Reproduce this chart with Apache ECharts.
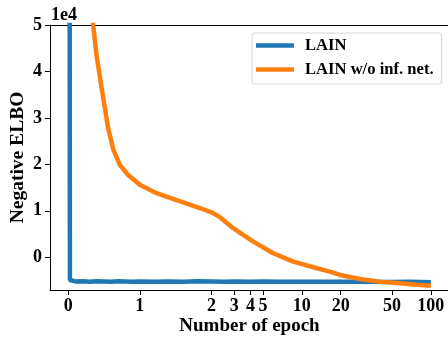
<!DOCTYPE html>
<html>
<head>
<meta charset="utf-8">
<script src="https://cdn.jsdelivr.net/npm/echarts@6/dist/echarts.min.js"></script>
<style>html,body{margin:0;padding:0;background:#fff}#c{width:448px;height:337px}</style>
</head>
<body>
<div id="c"></div>
<script>
// ---- data (epochs on a symlog x scale, linthresh = 2) ----
const seriesNames = ['LAIN', 'LAIN w/o inf. net.'];
const blueEpochs = [0, 0.025, 0.05, 0.1, 0.2, 0.3, 0.4, 0.5, 0.6, 0.7, 0.8, 0.9, 1.0, 1.2, 1.4, 1.6, 1.8, 2.0, 2.5, 3, 4, 5, 7, 10, 15, 20, 30, 50, 70, 100];
const blueValues = [400000, -4900, -5150, -5200, -5150, -5250, -5150, -5200, -5250, -5150, -5200, -5250, -5200, -5250, -5200, -5250, -5150, -5200, -5250, -5200, -5250, -5200, -5250, -5250, -5300, -5250, -5300, -5350, -5300, -5400];
const orangeEpochs = [0.27, 0.349, 0.396, 0.466, 0.526, 0.558, 0.628, 0.721, 0.837, 1.0, 1.233, 1.512, 1.838, 2.06, 2.3, 2.94, 4.21, 6.01, 8.59, 12.28, 16.5, 19.8, 28.25, 40.4, 57.7, 82.5, 100];
const orangeValues = [60000, 50000, 43500, 36500, 30800, 27800, 23300, 19900, 17700, 15600, 13800, 12300, 10600, 9500, 8700, 6250, 3360, 860, -950, -2155, -3100, -3815, -4680, -5260, -5600, -5970, -6120];
const xTickEpochs = [0, 1, 2, 3, 4, 5, 10, 20, 50, 100];
const yTickValues = [0, 10000, 20000, 30000, 40000, 50000];

// ---- symlog scale transform ----
const LINTHRESH = 2, ADJ = 1 / (1 - 1 / 10);
function symlog(e) { return e <= LINTHRESH ? e * ADJ : LINTHRESH * (ADJ + Math.log10(e / LINTHRESH)); }
function invSymlog(t) { return t <= LINTHRESH * ADJ ? t / ADJ : LINTHRESH * Math.pow(10, t / LINTHRESH - ADJ); }

const tMin = symlog(0), tMax = symlog(100);
const xMargin = 0.05 * (tMax - tMin);

const FONT = 'Liberation Serif';
const chart = echarts.init(document.getElementById('c'), null, { renderer: 'canvas' });
const blueData = blueEpochs.map((e, i) => [symlog(e), blueValues[i]]);
const orangeData = orangeEpochs.map((e, i) => [symlog(e), orangeValues[i]]);

chart.setOption({
  animation: false,
  backgroundColor: '#fff',
  grid: { left: 50, right: -1, top: 25, bottom: 47, containLabel: false, outerBoundsMode: 'none' },
  legend: {
    orient: 'vertical', left: 252, top: 33,
    padding: [4, 8, 6, 4], itemGap: 7,
    backgroundColor: 'rgba(255,255,255,0.8)', borderColor: '#d6d6d6', borderWidth: 1, borderRadius: 3,
    icon: 'rect', itemWidth: 38, itemHeight: 4.5,
    textStyle: { fontFamily: FONT, fontWeight: 'bold', fontSize: 16.6, color: '#000', padding: [0, 0, 0, 6] },
    data: seriesNames
  },
  xAxis: [{
    type: 'value', min: tMin - xMargin, max: tMax + xMargin,
    name: 'Number of epoch', nameLocation: 'middle', nameGap: 27, nameMoveOverlap: false,
    nameTextStyle: { fontFamily: FONT, fontWeight: 'bold', fontSize: 19, color: '#000' },
    axisLine: { show: true, onZero: false, lineStyle: { color: '#000', width: 1 } },
    axisTick: { show: true, length: 5, inside: false, lineStyle: { color: '#000', width: 1 }, customValues: xTickEpochs.map(symlog) },
    axisLabel: { fontFamily: FONT, fontWeight: 'bold', fontSize: 18, color: '#000', margin: 7,
      customValues: xTickEpochs.map(symlog),
      formatter: v => String(Math.round(invSymlog(v))) },
    splitLine: { show: false }
  }, {
    type: 'value', position: 'top', min: tMin - xMargin, max: tMax + xMargin,
    axisLine: { show: true, onZero: false, lineStyle: { color: '#000', width: 1 } },
    axisTick: { show: false }, axisLabel: { show: false }, splitLine: { show: false }
  }],
  yAxis: {
    type: 'value', min: -7050, max: 50000,
    name: 'Negative ELBO', nameLocation: 'middle', nameGap: 22, nameMoveOverlap: false,
    nameTextStyle: { fontFamily: FONT, fontWeight: 'bold', fontSize: 19.5, color: '#000' },
    axisLine: { show: true, onZero: false, lineStyle: { color: '#000', width: 1 } },
    axisTick: { show: true, length: 5, lineStyle: { color: '#000', width: 1 }, customValues: yTickValues },
    axisLabel: { fontFamily: FONT, fontWeight: 'bold', fontSize: 18, color: '#000', margin: 8,
      customValues: yTickValues, formatter: v => String(Math.round(v / 10000)) },
    splitLine: { show: false }
  },
  graphic: [{
    type: 'text', left: 51, top: 6,
    style: { text: '1e4', fontFamily: FONT, fontWeight: 'bold', fontSize: 18, fill: '#000' }
  }],
  series: [{
    name: seriesNames[0], type: 'line', data: blueData, showSymbol: false, clip: true,
    lineStyle: { color: '#1f77b4', width: 4.5 }, itemStyle: { color: '#1f77b4' }, z: 3
  }, {
    name: seriesNames[1], type: 'line', data: orangeData, showSymbol: false, clip: true,
    lineStyle: { color: '#ff7f0e', width: 4.5, join: 'round' }, itemStyle: { color: '#ff7f0e' }, z: 4
  }]
});
</script>
</body>
</html>
